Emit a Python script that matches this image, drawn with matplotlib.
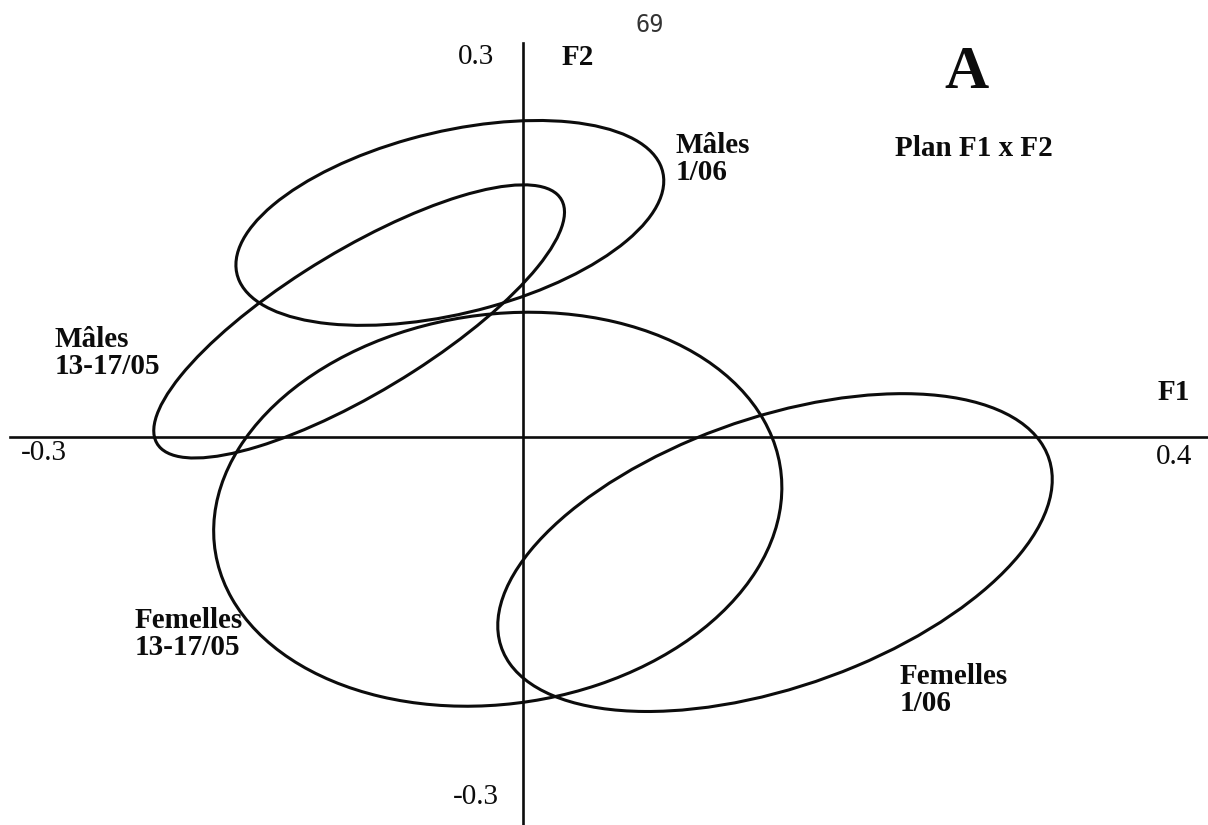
"""
Plan factoriel F1 x F2 : ellipses de dispersion des groupes
(mâles / femelles, deux dates d'échantillonnage).
"""

import numpy as np
import matplotlib
matplotlib.use("Agg")
import matplotlib.pyplot as plt
from matplotlib.patches import Ellipse

SERIF = ["Liberation Serif", "DejaVu Serif"]
INK = "#0c0c0c"

# --- données : centre, demi-étendues sur F1 / F2, corrélation ---
groups = ["Mâles\n1/06", "Mâles\n13-17/05", "Femelles\n13-17/05", "Femelles\n1/06"]
center_f1 = [-0.043, -0.096, -0.015, 0.147]
center_f2 = [0.163, 0.088, -0.055, -0.088]
half_f1 = [0.125, 0.120, 0.166, 0.162]
half_f2 = [0.078, 0.104, 0.150, 0.121]
corr = [0.41, 0.80, 0.11, 0.46]

# position des étiquettes de groupe (bord gauche, milieu du bloc)
label_f1 = [0.089, -0.274, -0.227, 0.220]
label_f2 = [0.212, 0.064, -0.150, -0.193]

# bornes des axes
f1_range = [-0.3, 0.4]
f2_range = [-0.3, 0.3]


def ellipse_patch(cx, cy, hx, hy, r):
    """Ellipse de covariance à partir des demi-étendues et de la corrélation."""
    cov = np.array([[hx * hx, r * hx * hy],
                    [r * hx * hy, hy * hy]])
    vals, vecs = np.linalg.eigh(cov)
    angle = np.degrees(np.arctan2(vecs[1, -1], vecs[0, -1]))
    return Ellipse((cx, cy), 2 * np.sqrt(vals[-1]), 2 * np.sqrt(vals[0]),
                   angle=angle, fill=False, edgecolor=INK, linewidth=2.2)


fig = plt.figure(figsize=(12.08, 8.25), dpi=100, facecolor="white")
ax = fig.add_axes([10 / 1208, -6 / 825, 1198 / 1208, 788 / 825])
ax.set_xlim(*f1_range)
ax.set_ylim(*f2_range)
ax.axis("off")

# axes F1 / F2 passant par l'origine
ax.plot(f1_range, [0, 0], color=INK, linewidth=1.9, clip_on=False)
ax.plot([0, 0], f2_range, color=INK, linewidth=1.9, clip_on=False)

for i in range(len(groups)):
    ax.add_patch(ellipse_patch(center_f1[i], center_f2[i],
                               half_f1[i], half_f2[i], corr[i]))
    ax.text(label_f1[i], label_f2[i], groups[i], family=SERIF,
            fontweight="bold", fontsize=21, color=INK, ha="left",
            va="center", linespacing=1.0)

# graduations aux extrémités des axes
num_style = dict(family=SERIF, fontsize=21, color=INK, ha="center", va="center")
ax.text(-0.028, 0.289, "0.3", **num_style)
ax.text(-0.028, -0.274, "-0.3", **num_style)
ax.text(-0.280, -0.012, "-0.3", **num_style)
ax.text(0.380, -0.015, "0.4", **num_style)

ax.text(0.380, 0.034, "F1", family=SERIF, fontweight="bold", fontsize=21,
        color=INK, ha="center", va="center")
ax.text(0.032, 0.289, "F2", family=SERIF, fontweight="bold", fontsize=21,
        color=INK, ha="center", va="center")

# titre du panneau
ax.text(0.2586, 0.277, "A", family=SERIF, fontweight="bold", fontsize=44,
        color=INK, ha="center", va="center")
ax.text(0.217, 0.220, "Plan F1 x F2", family=SERIF, fontweight="bold",
        fontsize=21, color=INK, ha="left", va="center")

# numéro de page
fig.text(650 / 1208, 1 - 25 / 825, "69", family="DejaVu Sans Mono",
         fontsize=17, color="#333333", ha="center", va="center")

fig.savefig("out.png", dpi=100, facecolor="white")
